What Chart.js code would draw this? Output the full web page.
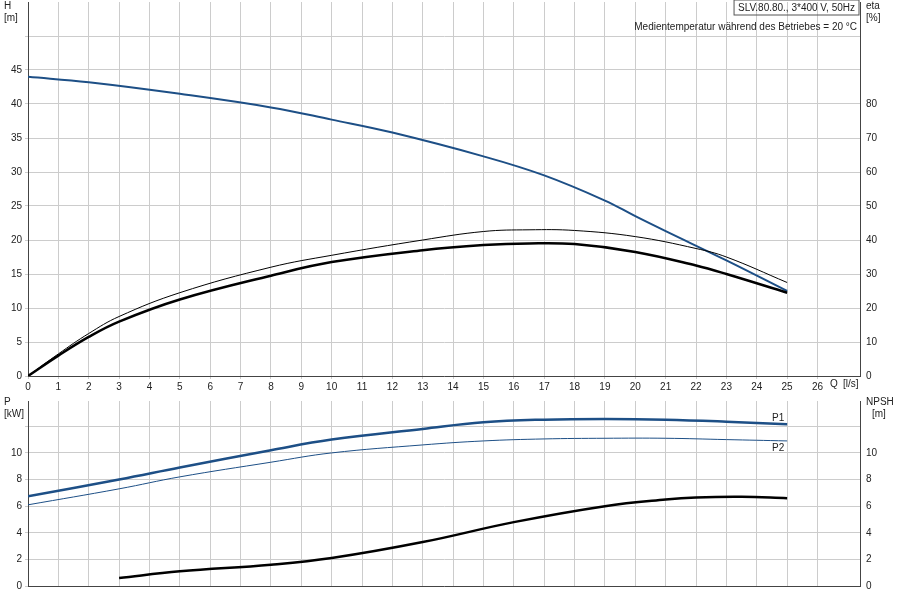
<!DOCTYPE html>
<html><head><meta charset="utf-8">
<script src="https://cdn.jsdelivr.net/npm/chart.js"></script>
<style>body{margin:0;background:#fff;width:900px;height:600px;position:relative;overflow:hidden;font-family:"Liberation Sans",Arial,sans-serif}
#w1{position:absolute;left:0;top:-7px;width:900px;height:402px}#w2{position:absolute;left:0;top:392px;width:900px;height:208px}</style>
</head><body>
<div id="w1"><canvas id="c1"></canvas></div><div id="w2"><canvas id="c2"></canvas></div>
<script>
const qH=[0,2,5,8,10,12,15,17,19,20,21,23,25];
const H=[44,43.2,41.5,39.5,37.7,35.8,32.3,29.5,25.8,23.5,21.3,17,12.5];
const qEta=[0,1,2,3,5,8,10,13,15,16.5,18,20,22,23,25];
const etaThick=[0,6,11.5,16,22.5,29.5,33.5,37,38.5,39,38.8,36.5,32.5,30,24.5];
const etaThin=[0,6.5,12.5,17.5,24.5,32,35.5,40,42.5,43,42.8,41,37.5,35,27.5];
const qP=[0,3,5,8,10,13,15,17,19,21,23,25];
const P1=[6.75,8,8.9,10.2,11,11.8,12.3,12.5,12.55,12.5,12.35,12.15];
const P2=[6.1,7.3,8.2,9.3,10,10.6,10.9,11.05,11.1,11.1,11.0,10.9];
const qN=[3,5,8,10,13,16,19,21,22,23.5,25];
const NPSH=[0.6,1.1,1.6,2.1,3.3,4.8,6,6.5,6.65,6.7,6.6];
const xTicks=[0,1,2,3,4,5,6,7,8,9,10,11,12,13,14,15,16,17,18,19,20,21,22,23,24,25,26];
const pts=(xs,ys)=>xs.map((x,i)=>({x,y:ys[i]}));
const F={family:"Liberation Sans",size:10};
const TC='#222';
function fixW(w){return s=>{s.width=w;};}
function textPlugin(items,dy){return {id:'txt',afterDraw(c){const g=c.ctx;g.save();g.font='10px Liberation Sans';g.fillStyle=TC;
items.forEach(t=>{g.textAlign=t.a||'left';g.textBaseline='middle';g.fillText(t.s,t.x,t.y+dy);
if(t.box){const w=g.measureText(t.s).width;g.strokeStyle='#555';g.strokeRect(t.x-w-4,t.y+dy-8,w+8,15);}});g.restore();}};}
const line=(data,col,w,ax)=>({data,borderColor:col,borderWidth:w,pointRadius:0,tension:0.4,yAxisID:ax,fill:false});
new Chart(document.getElementById('c1'),{type:'scatter',data:{datasets:[
 line(pts(qEta,etaThin),'#000',1,'y2'),line(pts(qEta,etaThick),'#000',2.5,'y2'),line(pts(qH,H),'#1d4f86',2,'y')]},
 options:{animation:false,responsive:true,maintainAspectRatio:false,showLine:true,layout:{padding:{top:1,bottom:0,left:0,right:0}},
 plugins:{legend:{display:false},tooltip:{enabled:false}},
 scales:{x:{type:'linear',min:0,max:27.4,afterBuildTicks:s=>{s.ticks=xTicks.map(v=>({value:v}));},ticks:{font:F,color:TC,autoSkip:false,maxRotation:0,padding:2},grid:{color:'#ccc',tickLength:3},border:{color:'#444'}},
 y:{min:0,max:55,afterBuildTicks:s=>{s.ticks=[0,5,10,15,20,25,30,35,40,45,50].map(v=>({value:v}));},ticks:{font:F,color:TC,callback:v=>v>45?'':v},grid:{color:'#ccc',tickLength:3},border:{color:'#444'},afterFit:fixW(28)},
 y2:{position:'right',min:0,max:110,afterBuildTicks:s=>{s.ticks=[0,10,20,30,40,50,60,70,80,90,100].map(v=>({value:v}));},ticks:{font:F,color:TC,callback:v=>v>80?'':v},grid:{display:false,tickLength:3},border:{color:'#444'},afterFit:fixW(40)}}},
 plugins:[textPlugin([{s:'H',x:4,y:6},{s:'[m]',x:4,y:18},{s:'eta',x:866,y:6},{s:'[%]',x:866,y:18},{s:'Q',x:830,y:384},{s:'[l/s]',x:843,y:384},
 {s:'SLV.80.80., 3*400 V, 50Hz',x:855,y:8,a:'right',box:true},{s:'Medientemperatur während des Betriebes = 20 °C',x:857,y:27,a:'right'}],7)]});
new Chart(document.getElementById('c2'),{type:'scatter',data:{datasets:[
 line(pts(qP,P1),'#1d4f86',2.5,'y'),line(pts(qP,P2),'#1d4f86',1,'y'),line(pts(qN,NPSH),'#000',2.5,'y2')]},
 options:{animation:false,responsive:true,maintainAspectRatio:false,showLine:true,layout:{padding:{top:8,bottom:0}},
 plugins:{legend:{display:false},tooltip:{enabled:false}},
 scales:{x:{type:'linear',min:0,max:27.4,afterBuildTicks:s=>{s.ticks=xTicks.map(v=>({value:v}));},ticks:{display:false},grid:{color:'#ccc',tickLength:0},border:{color:'#444'},afterFit:s=>{s.height=14;}},
 y:{min:0,max:13.9,afterBuildTicks:s=>{s.ticks=[0,2,4,6,8,10,12].map(v=>({value:v}));},ticks:{font:F,color:TC,callback:v=>v>10?'':v},grid:{color:'#ccc',tickLength:3},border:{color:'#444'},afterFit:fixW(28)},
 y2:{position:'right',min:0,max:13.9,afterBuildTicks:s=>{s.ticks=[0,2,4,6,8,10,12].map(v=>({value:v}));},ticks:{font:F,color:TC,callback:v=>v>10?'':v},grid:{display:false,tickLength:3},border:{color:'#444'},afterFit:fixW(40)}}},
 plugins:[textPlugin([{s:'P',x:4,y:10},{s:'[kW]',x:4,y:22},{s:'NPSH',x:866,y:10},{s:'[m]',x:872,y:22},{s:'P1',x:772,y:26},{s:'P2',x:772,y:56}],0)]});
</script></body></html>
